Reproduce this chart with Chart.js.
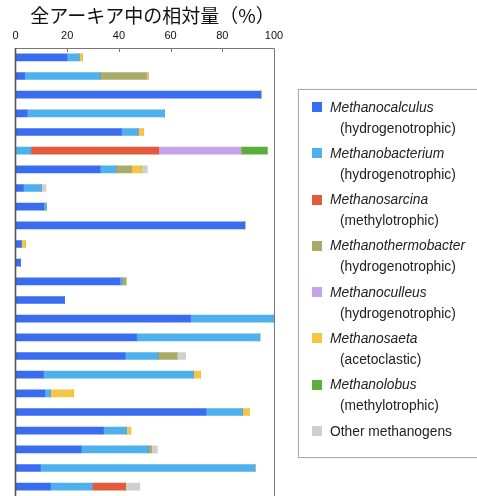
<!DOCTYPE html>
<html>
<head>
<meta charset="utf-8">
<script src="https://cdn.jsdelivr.net/npm/chart.js@4.4.1/dist/chart.umd.min.js"></script>
<style>
  html, body { margin: 0; padding: 0; background: #fff; overflow: hidden; }
  #wrap { position: relative; width: 477px; height: 496px; overflow: hidden; }
  #c { position: absolute; left: 0; top: 0; }
  #legend {
    position: absolute; left: 298px; top: 89px; width: 200px; height: 360px;
    border: 1px solid #aaa; box-shadow: 0 0 1px #ccc; background: #fff;
    padding-top: 6.5px; box-sizing: content-box;
    font-family: "Liberation Sans", Arial, sans-serif; font-size: 13.8px; color: #222;
  }
  .item { position: relative; padding-left: 31px; line-height: 21px; margin-bottom: 4.3px; }
  .sw { position: absolute; left: 13px; top: 5.5px; width: 10px; height: 10px; }
  .g { font-style: italic; }
  .t { padding-left: 10px; }
</style>
</head>
<body>
<div id="wrap">
  <canvas id="c" width="477" height="500"></canvas>
  <div id="legend"></div>
</div>
<script>
// ---- data ----
const samples = ['S1','S2','S3','S4','S5','S6','S7','S8','S9','S10','S11','S12',
                 'S13','S14','S15','S16','S17','S18','S19','S20','S21','S22','S23','S24'];
const xTicks = [0, 20, 40, 60, 80, 100];
const titleText = '全アーキア中の相対量（%）';

const methanocalculus     = [19.9, 3.5, 94.9, 4.5, 41.0, 0, 32.7, 3.0, 10.9, 88.7, 2.2, 1.9, 40.4, 19.0, 67.7, 46.8, 42.4, 10.8, 11.3, 73.7, 34.0, 25.4, 9.6, 13.5];
const methanobacterium    = [4.7, 29.2, 0, 53.2, 6.4, 6.0, 6.1, 6.9, 0.9, 0, 0, 0, 0.8, 0, 32.3, 47.7, 12.8, 58.0, 2.2, 14.1, 9.0, 25.9, 83.0, 16.2];
const methanosarcina      = [0, 0, 0, 0, 0, 49.4, 0, 0, 0, 0, 0, 0, 0, 0, 0, 0, 0, 0, 0, 0, 0, 0, 0, 12.9];
const methanothermobacter = [0, 17.9, 0, 0, 0, 0, 6.1, 0, 0, 0, 0, 0, 1.5, 0, 0, 0, 7.2, 0, 0, 0, 0, 1.3, 0, 0];
const methanoculleus      = [0, 0, 0, 0, 0, 31.8, 0, 0, 0, 0, 0, 0, 0, 0, 0, 0, 0, 0, 0, 0, 0, 0, 0, 0];
const methanosaeta        = [1.3, 0.7, 0, 0, 2.2, 0, 3.8, 0, 0, 0, 1.6, 0, 0, 0, 0, 0, 0, 2.8, 8.9, 2.8, 1.6, 0, 0, 0];
const methanolobus        = [0, 0, 0, 0, 0, 10.2, 0, 0, 0, 0, 0, 0, 0, 0, 0, 0, 0, 0, 0, 0, 0, 0, 0, 0];
const otherMethanogens    = [0, 0, 0, 0, 0, 0, 2.3, 1.9, 0, 0, 0, 0, 0, 0, 0, 0, 3.4, 0, 0, 0, 0, 2.3, 0, 5.5];

const genusNames = ['Methanocalculus', 'Methanobacterium', 'Methanosarcina', 'Methanothermobacter',
                    'Methanoculleus', 'Methanosaeta', 'Methanolobus', 'Other methanogens'];
const pathways   = ['(hydrogenotrophic)', '(hydrogenotrophic)', '(methylotrophic)', '(hydrogenotrophic)',
                    '(hydrogenotrophic)', '(acetoclastic)', '(methylotrophic)', ''];
const seriesValues = [methanocalculus, methanobacterium, methanosarcina, methanothermobacter,
                      methanoculleus, methanosaeta, methanolobus, otherMethanogens];

// ---- styles ----
const colors = ['#3a6cf0', '#4fb0ee', '#e35a3c', '#a9ab69', '#c5a3e8', '#f5c645', '#5aaf3c', '#cfcfcf'];

const datasets = seriesValues.map((vals, i) => ({
  label: genusNames[i],
  data: vals,
  backgroundColor: colors[i],
  borderWidth: 0,
  barThickness: 7
}));

const framePlugin = {
  id: 'frame',
  afterDatasetsDraw(chart) {
    const {ctx, chartArea: a, scales: {x}} = chart;
    ctx.save();
    ctx.strokeStyle = '#777';
    ctx.lineWidth = 1;
    ctx.beginPath();
    ctx.moveTo(a.left, a.top + 0.5);
    ctx.lineTo(a.right + 0.5, a.top + 0.5);
    ctx.lineTo(a.right + 0.5, a.bottom);
    ctx.stroke();
    // inward tick marks
    x.ticks.forEach(t => {
      if (t.value <= 0 || t.value >= 100) return;
      const px = Math.round(x.getPixelForValue(t.value)) + 0.5;
      ctx.beginPath();
      ctx.moveTo(px, a.top);
      ctx.lineTo(px, a.top + 4);
      ctx.stroke();
    });
    ctx.strokeStyle = '#555';
    ctx.lineWidth = 1.6;
    ctx.beginPath();
    ctx.moveTo(a.left, a.top);
    ctx.lineTo(a.left, a.bottom);
    ctx.stroke();
    ctx.restore();
  }
};

const hiddenAxis = (pos, w) => ({
  type: 'category',
  labels: samples,
  position: pos,
  display: true,
  stacked: true,
  grid: { display: false, drawTicks: false },
  border: { display: false },
  ticks: { display: false },
  afterFit(scale) { scale.width = w; }
});

new Chart(document.getElementById('c'), {
  type: 'bar',
  data: { labels: samples, datasets },
  options: {
    indexAxis: 'y',
    responsive: false,
    animation: false,
    devicePixelRatio: 1,
    layout: { padding: { left: 0, right: 172, top: 0, bottom: 4 } },
    plugins: {
      legend: { display: false },
      tooltip: { enabled: false },
      title: {
        display: true,
        text: titleText,
        color: '#111',
        padding: { top: 4, bottom: 0 },
        font: { family: '"Noto Sans CJK JP", sans-serif', size: 19, weight: 'normal', lineHeight: 1.2 }
      }
    },
    scales: {
      x: {
        position: 'top',
        stacked: true,
        min: 0, max: 100,
        afterBuildTicks(scale) { scale.ticks = xTicks.map(v => ({ value: v })); },
        afterFit(scale) { scale.height = 48 - 26.8; },
        grid: { display: false, drawTicks: false, tickLength: 0 },
        border: { display: false },
        ticks: {
          padding: 5,
          color: '#111',
          font: { family: '"Liberation Sans", Arial, sans-serif', size: 11 },
          maxRotation: 0,
          autoSkip: false
        }
      },
      y: hiddenAxis('left', 15.5),
      y2: hiddenAxis('right', 477 - 172 - 274)
    }
  },
  plugins: [framePlugin]
});

// ---- HTML legend built from the series names ----
const legend = document.getElementById('legend');
genusNames.forEach((name, i) => {
  const item = document.createElement('div');
  item.className = 'item';
  const sw = document.createElement('span');
  sw.className = 'sw';
  sw.style.background = colors[i];
  item.appendChild(sw);
  const l1 = document.createElement('div');
  l1.className = pathways[i] ? 'g' : '';
  l1.textContent = name;
  item.appendChild(l1);
  if (pathways[i]) {
    const l2 = document.createElement('div');
    l2.className = 't';
    l2.textContent = pathways[i];
    item.appendChild(l2);
  }
  legend.appendChild(item);
});
</script>
</body>
</html>
